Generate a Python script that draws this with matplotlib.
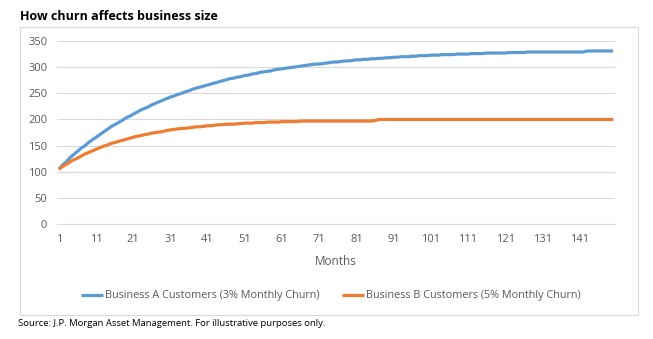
import matplotlib.pyplot as plt
from matplotlib.patches import Rectangle

# Customers per month
business_a = [
    105, 113, 119, 127, 133, 139, 145, 150, 156, 161,
    166, 171, 176, 181, 186, 190, 194, 198, 203, 206,
    210, 214, 218, 221, 224, 228, 231, 234, 237, 240,
    243, 245, 248, 250, 253, 255, 258, 260, 262, 264,
    266, 268, 270, 272, 274, 276, 278, 279, 281, 282,
    284, 285, 287, 288, 290, 291, 292, 293, 295, 296,
    297, 298, 299, 300, 301, 302, 303, 304, 305, 306,
    306, 307, 308, 309, 310, 310, 311, 312, 312, 313,
    314, 314, 315, 315, 316, 316, 317, 317, 318, 318,
    319, 319, 320, 320, 320, 321, 321, 322, 322, 322,
    323, 323, 323, 324, 324, 324, 324, 325, 325, 325,
    325, 326, 326, 326, 326, 327, 327, 327, 327, 327,
    327, 328, 328, 328, 328, 328, 329, 329, 329, 329,
    329, 329, 329, 329, 329, 329, 329, 329, 329, 329,
    329, 329, 331, 331, 331, 331, 331, 331, 331, 331,
]
business_b = [
    105, 110, 114, 119, 123, 126, 130, 134, 137, 140,
    143, 146, 149, 151, 154, 156, 158, 160, 162, 164,
    166, 168, 169, 171, 172, 174, 175, 176, 177, 179,
    180, 181, 182, 183, 183, 184, 185, 186, 186, 187,
    188, 188, 189, 190, 190, 191, 191, 191, 192, 192,
    193, 193, 193, 194, 194, 194, 195, 195, 195, 195,
    196, 196, 196, 196, 196, 197, 197, 197, 197, 197,
    197, 197, 197, 197, 197, 197, 197, 197, 197, 197,
    197, 197, 197, 197, 197, 198, 200, 200, 200, 200,
    200, 200, 200, 200, 200, 200, 200, 200, 200, 200,
    200, 200, 200, 200, 200, 200, 200, 200, 200, 200,
    200, 200, 200, 200, 200, 200, 200, 200, 200, 200,
    200, 200, 200, 200, 200, 200, 200, 200, 200, 200,
    200, 200, 200, 200, 200, 200, 200, 200, 200, 200,
    200, 200, 200, 200, 200, 200, 200, 200, 200, 200,
]
months = list(range(1, len(business_a) + 1))
month_ticks = list(range(1, 142, 10))
y_ticks = [0, 50, 100, 150, 200, 250, 300, 350]

label_a = 'Business A Customers (3% Monthly Churn)'
label_b = 'Business B Customers (5% Monthly Churn)'

plt.rcParams['font.family'] = ['Open Sans', 'DejaVu Sans']

fig = plt.figure(figsize=(6.53, 3.39), dpi=100)
fig.patch.set_facecolor('white')

# chart frame
fig.patches.append(Rectangle((0.0306, 0.0708), 0.9464, 0.8496, transform=fig.transFigure,
                             fill=False, edgecolor='#D9D9D9', linewidth=0.8))

ax = fig.add_axes([0.0873, 0.339, 0.8545, 0.540])
ax.plot(months, business_a, color='#5B9BD5', linewidth=2.3, label=label_a, solid_capstyle='butt')
ax.plot(months, business_b, color='#ED7D31', linewidth=2.3, label=label_b, solid_capstyle='butt')

ax.set_xlim(0.5, 150.5)
ax.set_ylim(0, 350)
ax.set_xticks(month_ticks)
ax.set_yticks(y_ticks)
ax.tick_params(length=0, labelsize=8, colors='#595959', pad=7)
ax.grid(axis='y', color='#D9D9D9', linewidth=0.8)
ax.set_axisbelow(True)
for s in ['left', 'right', 'top']:
    ax.spines[s].set_visible(False)
ax.spines['bottom'].set_color('#D9D9D9')
ax.spines['bottom'].set_linewidth(0.8)
ax.set_xlabel('Months', fontsize=8.5, color='#595959', labelpad=7)

fig.legend(loc='center', bbox_to_anchor=(0.507, 0.127), ncol=2, frameon=False,
           fontsize=7.8, handlelength=2.0, columnspacing=2.1, handletextpad=0.2,
           labelcolor='#595959')

fig.text(0.031, 0.952, 'How churn affects business size', fontsize=9,
         fontweight='bold', ha='left', va='center')
fig.text(0.027, 0.045, 'Source: J.P. Morgan Asset Management. For illustrative purposes only.',
         fontsize=6.8, ha='left', va='center')

fig.savefig('out.png', dpi=100)
